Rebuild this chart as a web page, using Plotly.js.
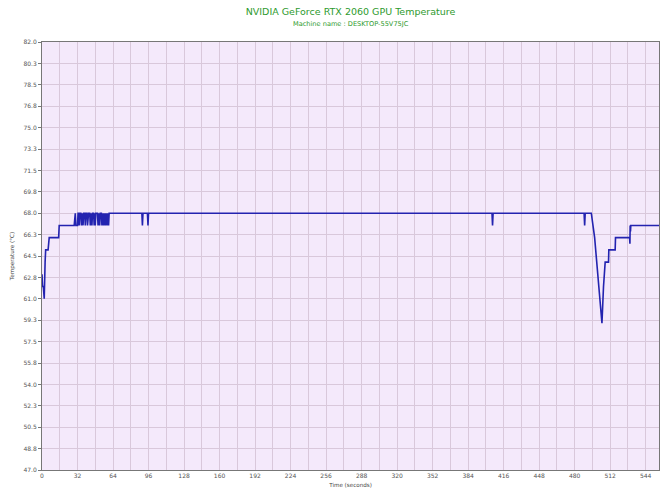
<!DOCTYPE html>
<html>
<head>
<meta charset="utf-8">
<script src="https://cdn.plot.ly/plotly-3.0.1.min.js"></script>
<style>html,body{margin:0;padding:0;background:#fff;}#chart{width:670px;height:502px;}</style>
</head>
<body>
<div id="chart"></div>
<script>
const timeSec = [
  0, 0.5, 1.2, 2, 2.8, 3.3, 5.5, 6.5, 15, 15.5,
  29, 29.5, 30, 30.5, 32, 32.5, 33, 33.5, 34, 35,
  35.5, 36, 37, 37.5, 38.5, 39, 39.5, 40.5, 41, 42,
  43, 43.5, 44, 45, 45.5, 46.5, 47, 47.5, 48, 48.5,
  50, 50.5, 51, 52, 52.5, 53.5, 54, 55, 55.5, 56,
  57, 57.5, 58.5, 59, 60, 60.5, 90, 90.5, 91, 95,
  95.5, 96, 405.5, 406, 406.5, 488.5, 489, 489.5, 495, 498,
  499, 504.6, 506, 507.5, 510.5, 510.8, 516.5, 516.8, 529.5, 529.8,
  530, 530.3, 530.6, 556
];
const tempC = [
  63, 62, 62, 61, 64, 65, 65, 66, 66, 67,
  67, 68, 68, 67, 67, 68, 68, 67, 68, 68,
  67, 68, 67, 68, 68, 67, 68, 68, 67, 68,
  68, 67, 68, 67, 68, 68, 67, 68, 67, 68,
  68, 67, 68, 67, 68, 68, 67, 68, 67, 68,
  67, 68, 67, 68, 67, 68, 68, 67, 68, 68,
  67, 68, 68, 67, 68, 68, 67, 68, 68, 66,
  65, 59, 62, 64, 64, 65, 65, 66, 66, 65.5,
  67, 66.5, 67, 67
];
const yTickVals = [47.0,48.75,50.5,52.25,54.0,55.75,57.5,59.25,61.0,62.75,64.5,66.25,68.0,69.75,71.5,73.25,75.0,76.75,78.5,80.25,82.0];
const yTickText = ["47.0","48.8","50.5","52.3","54.0","55.8","57.5","59.3","61.0","62.8","64.5","66.3","68.0","69.8","71.5","73.3","75.0","76.8","78.5","80.3","82.0"];
const xTickVals = [0,32,64,96,128,160,192,224,256,288,320,352,384,416,448,480,512,544];
const xTickText = ["0","32","64","96","128","160","192","224","256","288","320","352","384","416","448","480","512","544"];
const chartTitle = 'NVIDIA GeForce RTX 2060 GPU Temperature';
const chartSubtitle = 'Machine name : DESKTOP-55V75JC';

const trace = {
  x: timeSec, y: tempC, type: 'scatter', mode: 'lines',
  line: {color: '#2323b0', width: 1.6}, hoverinfo: 'skip'
};
const gridCol = '#d9c8db';
const fam = 'DejaVu Sans, Verdana, sans-serif';
const layout = {
  width: 670, height: 502,
  margin: {l: 42, r: 11, t: 42, b: 32},
  paper_bgcolor: '#ffffff',
  plot_bgcolor: '#f4e9fb',
  showlegend: false,
  font: {family: fam, color: '#555', size: 6},
  title: {
    text: chartTitle,
    font: {family: fam, size: 9.5, color: '#2e9a2e'},
    x: 0.5, xref: 'paper', xanchor: 'center', yref: 'container', y: 1 - 12/502, yanchor: 'middle'
  },
  annotations: [{
    text: chartSubtitle, xref: 'paper', yref: 'paper', x: 0.5, y: 1 + 18/428,
    xanchor: 'center', yanchor: 'middle', showarrow: false,
    font: {family: fam, size: 6.6, color: '#2e9a2e'}
  }],
  xaxis: {
    range: [0, 556], tickmode: 'array', tickvals: xTickVals, ticktext: xTickText,
    showgrid: true, gridcolor: gridCol, gridwidth: 1,
    minor: {dtick: 16, tick0: 0, showgrid: true, gridcolor: gridCol, gridwidth: 1},
    zeroline: false, showline: true, linecolor: '#777', linewidth: 1, mirror: true,
    ticks: '', tickfont: {size: 6, color: '#555'},
    title: {text: 'Time (seconds)', font: {size: 5.6, color: '#444'}, standoff: 4}
  },
  yaxis: {
    range: [47, 82], tickmode: 'array', tickvals: yTickVals, ticktext: yTickText,
    showgrid: true, gridcolor: gridCol, gridwidth: 1,
    zeroline: false, showline: true, linecolor: '#777', linewidth: 1, mirror: true,
    ticks: 'outside', ticklen: 3, tickcolor: '#777', tickfont: {size: 6, color: '#555'},
    title: {text: 'Temperature (°C)', font: {size: 5.6, color: '#444'}, standoff: 8}
  }
};
Plotly.newPlot('chart', [trace], layout, {staticPlot: true, displayModeBar: false});
</script>
</body>
</html>
